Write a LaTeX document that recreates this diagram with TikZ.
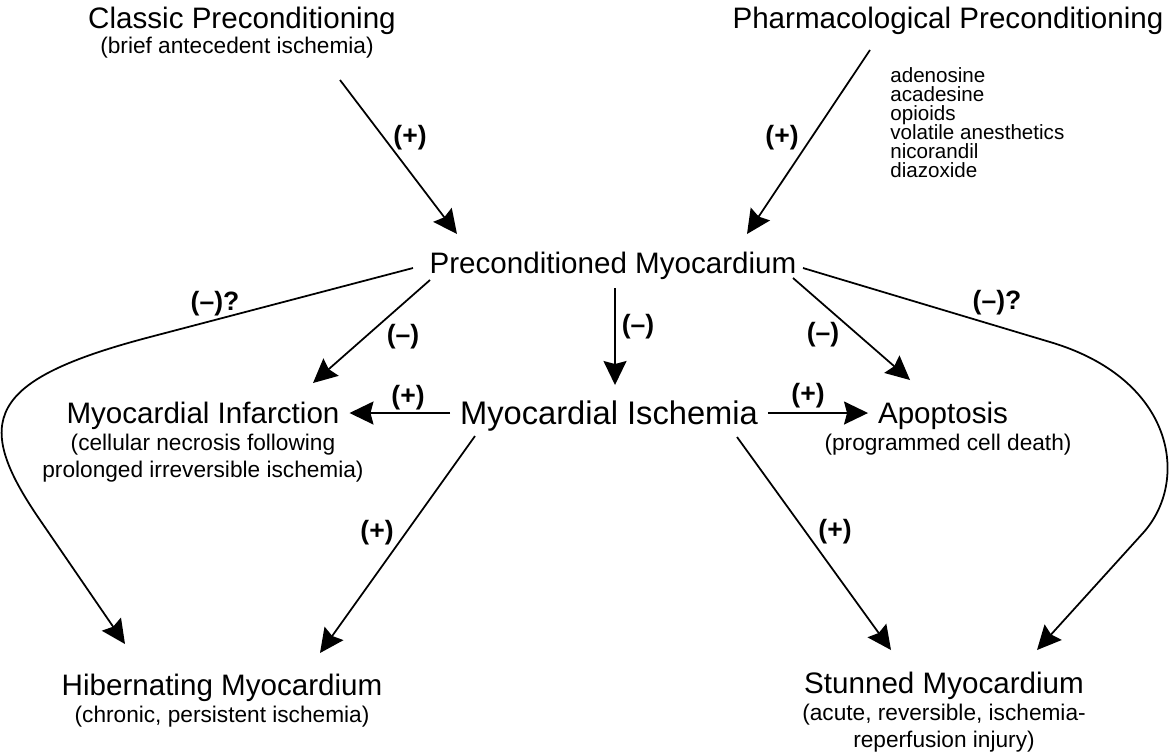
\documentclass[tikz,border=0pt]{standalone}
\usepackage{fontspec}
\setmainfont{Liberation Sans}
\usepackage{tikz}
\usetikzlibrary{positioning,arrows.meta,calc}
\newcommand\druglistfont{\fontsize{11.72}{10.81}\selectfont\lineskiplimit=-10pt\relax}

\begin{document}
\begin{tikzpicture}[x=0.02cm, y=-0.02cm,
  mainnode/.style={inner sep=0pt, outer sep=0.2cm, text height=12.06pt, text depth=0pt,
    font=\fontsize{16.84}{20}\selectfont},
  bignode/.style={mainnode, text height=13.3pt, font=\fontsize{18.6}{22}\selectfont},
  subnote/.style={inner sep=0pt, align=center, font=\fontsize{12.9}{15.65}\selectfont},
  druglist/.style={inner sep=0pt, align=left, anchor=north west, font=\druglistfont},
  sign/.style={inner sep=0pt, font=\fontsize{15.1}{18}\selectfont\bfseries},
  parr/.style={-{Stealth[length=0.48cm, width=0.46cm, inset=0.06cm]}, line width=1pt},
]
\useasboundingbox (0,0) rectangle (1172,752);
% Top row
\node[mainnode] (cls) at (242,18) {Classic Preconditioning};
\node[subnote, below=-0.04cm of cls, xshift=-0.1cm] (clssub) {(brief antecedent ischemia)};
\node[mainnode] (pha) at (948,18) {Pharmacological Preconditioning};
\node[druglist] (drugs) at (890,67.7) {adenosine\\acadesine\\opioids\\volatile anesthetics\\nicorandil\\diazoxide};
% Middle
\node[mainnode] (pre) at (613,263) {Preconditioned Myocardium};
\node[bignode] (isch) at (609,413) {Myocardial Ischemia};
\node[mainnode] (inf) at (203,413) {Myocardial Infarction};
\node[subnote, below=0pt of inf] (infsub) {(cellular necrosis following\\prolonged irreversible ischemia)};
\node[mainnode] (apo) at (943,413) {Apoptosis};
\node[subnote, below=0pt of apo, xshift=0.1cm] (aposub) {(programmed cell death)};
% Bottom row
\node[mainnode] (hib) at (222,685) {Hibernating Myocardium};
\node[subnote, below=0pt of hib] (hibsub) {(chronic, persistent ischemia)};
\node[mainnode] (stu) at (944,683) {Stunned Myocardium};
\node[subnote, below=0pt of stu] (stusub) {(acute, reversible, ischemia-\\reperfusion injury)};
% Signs
\node[sign] (sgcp) at (410,138) {(+)};
\node[sign] (sgpp) at (782,138) {(+)};
\node[sign] (sginf) at (403,337) {(\textendash)};
\node[sign] (sgisc) at (638,327) {(\textendash)};
\node[sign] (sgapo) at (823,335) {(\textendash)};
\node[sign] (sgmi) at (408,398) {(+)};
\node[sign] (sgma) at (808,396) {(+)};
\node[sign] (sghib) at (377,533) {(+)};
\node[sign] (sgstu) at (835,532) {(+)};
\node[sign] (sgqh) at (215,304) {(\textendash)?};
\node[sign] (sgqs) at (997,303) {(\textendash)?};
% Into preconditioned myocardium
\draw[parr] ($(cls)+(98,62)$) -- ($(pre)+(-156,-29)$);
\draw[parr] ($(pha)+(-78,32)$) -- ($(pre)+(134,-29)$);
% Out of preconditioned myocardium
\draw[parr] ($(pre)+(-183,17)$) -- ($(inf)+(110,-30)$);
\draw[parr] ($(pre)+(2,25)$) -- ($(isch)+(6,-28)$);
\draw[parr] ($(pre)+(180,15)$) -- ($(apo)+(-33,-33)$);
% Out of ischemia
\draw[parr] (isch)--(inf); \draw[parr] (isch)--(apo);
\draw[parr] ($(isch)+(-134,23)$) -- ($(hib)+(98,-32)$);
\draw[parr] ($(isch)+(128,24)$) -- ($(stu)+(-53,-33)$);
% Long curves
\draw[parr] ($(pre)+(-200,5)$) -- (150,337) .. controls (-14,380) and (-28,421) .. (40,520) -- ($(hib)+(-97,-41)$);
\draw[parr] ($(pre)+(190,5)$) -- (1050,342) .. controls (1175,379) and (1190,481) .. (1143,533) -- ($(stu)+(93,-33)$);
\end{tikzpicture}
\end{document}
